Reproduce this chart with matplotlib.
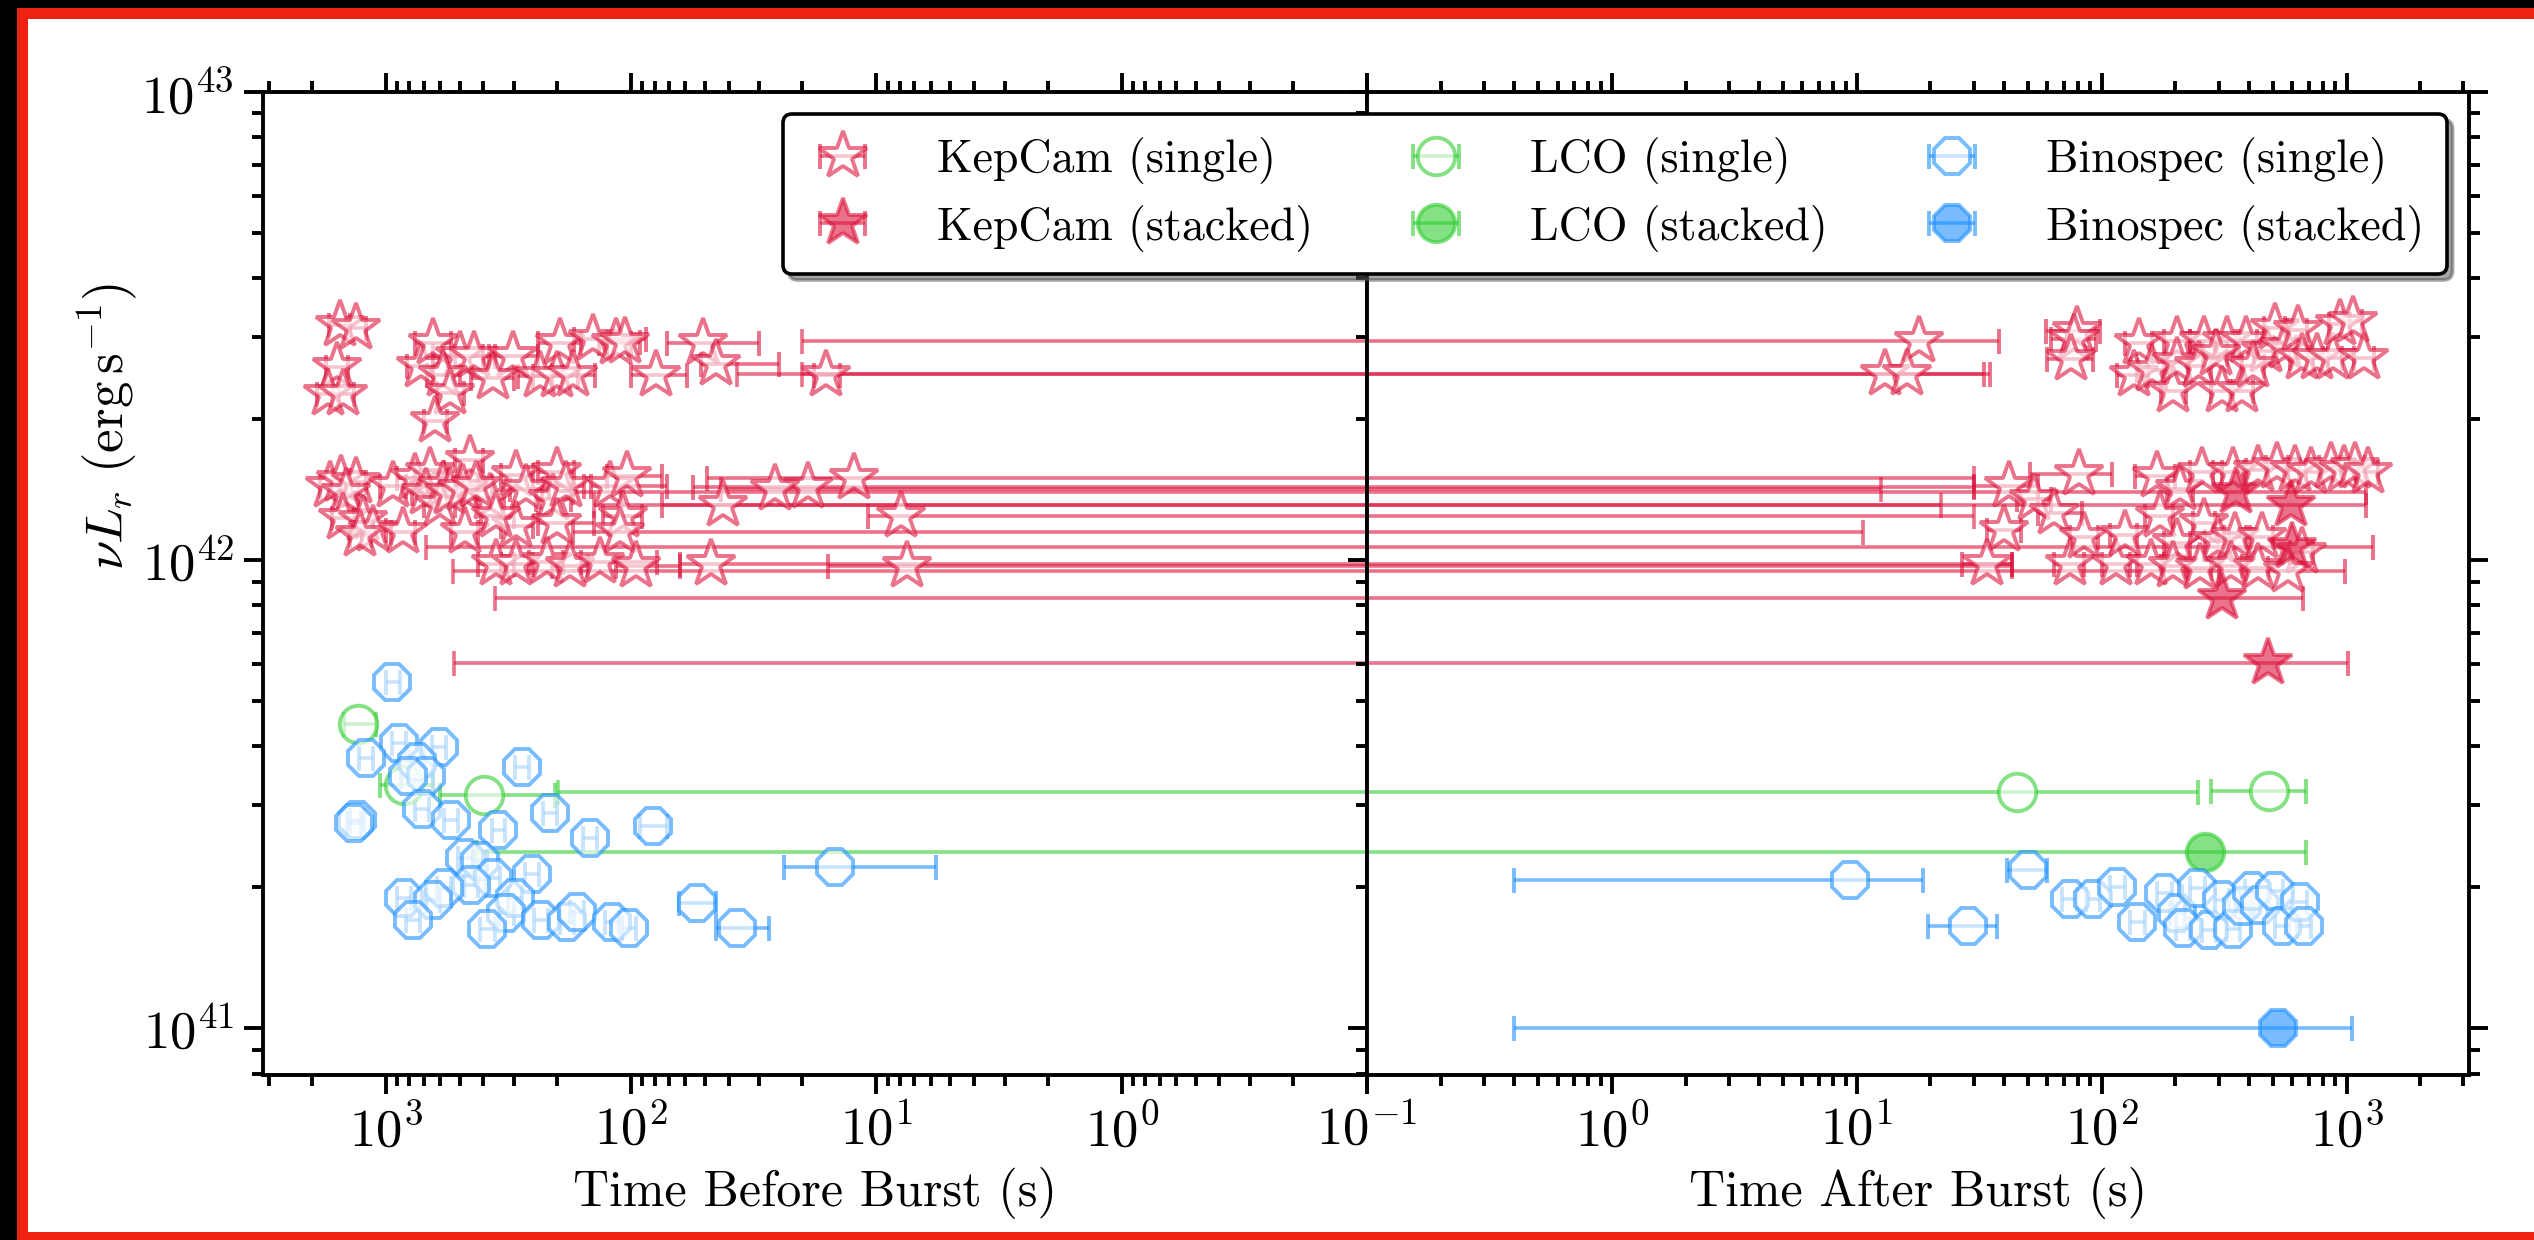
import numpy as np
import matplotlib
matplotlib.use("Agg")
import matplotlib.pyplot as plt
from matplotlib import ticker
from matplotlib.patches import Rectangle

plt.rcParams.update({
    "font.family": "serif",
    "font.serif": ["cmr10"],
    "mathtext.fontset": "cm",
    "axes.formatter.use_mathtext": True,
    "axes.unicode_minus": False,
})

# exposure windows: centre, start, end (s, negative = before the burst) and nu L_r (erg/s)
# KepCam single frames with the marker before the burst
kep_pre_t = [-1540, -1320, -1580, -1720, -1490, -720, -640, -500, -435, -303, -583, -366, -548,
             -630, -195, -236, -201, -172, -143, -115, -106, -79, -51, -45, -16,
             -1690, -1517, -1318, -1445, -1493, -1236, -1127, -1276, -933, -849, -762, -662,
             -682, -583, -603, -548, -455, -484, -377, -476, -427, -293, -267, -293, -354,
             -201, -208, -184, -201, -122, -104, -108, -111, -354, -293, -221, -178, -134, -95,
             -12.3, -19, -26, -42, -7.9, -47, -7.5]
kep_pre_start = [-1700, -1450, -1750, -1900, -1650, -820, -760, -640, -520, -380, -680, -450, -620,
                 -700, -240, -290, -250, -210, -170, -135, -125, -100, -71, -52, -18,
                 -1850, -1650, -1450, -1600, -1650, -1350, -1250, -1400, -1050, -950, -900, -760,
                 -780, -660, -700, -620, -520, -560, -430, -540, -490, -340, -310, -340, -410,
                 -240, -245, -215, -240, -145, -125, -130, -172, -420, -340, -260, -210, -160, -115,
                 -49, -56, -43, -75, -10.8, -63, -15.8]
kep_pre_end = [-1400, -1200, -1420, -1550, -1350, -640, -540, -400, -360, -240, -500, -300, -480,
               -560, -160, -190, -165, -140, -87, -100, -92, -59, -30, -25, -14,
               -1550, -1400, -1200, -1300, -1350, -1130, -1000, -1150, -830, -760, -560, -580,
               -600, -510, -520, -480, -400, -420, -330, -420, -370, -250, -230, -250, -300,
               -170, -175, -155, -141, -71, -75, -90, 10.6, -300, -250, -190, -150, -78, -63,
               30, 30, 12.5, 22, 30, 43, 43]
kep_pre_lum = [3.18e42, 3.13e42, 2.58e42, 2.26e42, 2.26e42, 2.6e42, 2.91e42, 2.73e42, 2.73e42,
               2.73e42, 2.49e42, 2.45e42, 2.28e42, 1.98e42, 2.91e42, 2.47e42, 2.47e42, 2.49e42,
               2.96e42, 2.91e42, 2.93e42, 2.49e42, 2.91e42, 2.63e42, 2.49e42,
               1.44e42, 1.48e42, 1.47e42, 1.39e42, 1.23e42, 1.22e42, 1.16e42, 1.13e42, 1.44e42,
               1.15e42, 1.50e42, 1.54e42, 1.39e42, 1.44e42, 1.31e42, 1.39e42, 1.64e42, 1.42e42,
               1.36e42, 1.15e42, 1.44e42, 1.52e42, 1.42e42, 1.18e42, 1.24e42, 1.54e42, 1.35e42,
               1.44e42, 1.20e42, 1.44e42, 1.51e42, 1.24e42, 1.15e42, 9.8e41, 9.8e41, 9.9e41,
               9.7e41, 9.9e41, 9.7e41,
               1.50e42, 1.43e42, 1.42e42, 1.31e42, 1.24e42, 9.8e41, 9.7e41]

# KepCam single frames with the marker after the burst
kep_post_t = [18, 13.1, 16, 79, 77, 75, 142, 204, 262, 326, 390, 470, 512, 560, 631, 658, 760, 879,
              938, 1062, 1178, 135, 160, 196, 204, 250, 292, 310, 374, 415,
              42, 53, 64, 40, 81, 34, 74, 85, 114, 124, 169, 209, 173, 204, 159, 196, 257, 344,
              433, 522, 617, 714, 861, 977, 1083, 1228, 262, 298, 351, 452, 658, 251, 337, 433, 579]
kep_post_start = [-20, -37, -20, 59, 62, 60, 125, 180, 230, 290, 350, 420, 460, 500, 570, 590, 690,
                  800, 850, 960, 1070, 115, 140, 175, 185, 225, 260, 280, 335, 375,
                  30, 45, 55, 34, 51, 27, 64, 74, 100, 108, 137, 185, 150, 180, 140, 175, 230, 310,
                  390, 470, 555, 640, 775, 880, 975, 1100, 235, 265, 315, 405, 590, 225, 300, 390,
                  -532]
kep_post_end = [38, 33, 35, 98, 95, 92, 160, 230, 295, 365, 430, 520, 560, 620, 690, 730, 840, 960,
                1030, 1160, 1290, 155, 180, 220, 225, 280, 325, 345, 415, 460,
                55, 62, 83, 47, 110, 43, 85, 97, 130, 140, 200, 235, 195, 230, 180, 220, 285, 380,
                480, 575, 680, 790, 950, 1080, 1190, 1350, 290, 330, 390, 500, 730, 280, 375, 480,
                990]
kep_post_lum = [2.94e42, 2.5e42, 2.5e42, 3.08e42, 2.96e42, 2.69e42, 2.91e42, 2.94e42, 2.94e42,
                2.94e42, 2.94e42, 2.80e42, 3.13e42, 2.85e42, 3.10e42, 2.70e42, 2.70e42, 2.70e42,
                3.20e42, 3.24e42, 2.70e42, 2.49e42, 2.55e42, 2.30e42, 2.65e42, 2.60e42, 2.75e42,
                2.30e42, 2.30e42, 2.60e42,
                1.44e42, 1.35e42, 1.26e42, 1.16e42, 1.53e42, 9.8e41, 9.8e41, 1.12e42, 9.8e41,
                1.13e42, 1.51e42, 1.42e42, 1.24e42, 1.09e42, 9.8e41, 9.7e41, 1.54e42, 1.54e42,
                1.56e42, 1.58e42, 1.56e42, 1.54e42, 1.58e42, 1.56e42, 1.58e42, 1.54e42, 1.20e42,
                1.10e42, 1.12e42, 1.12e42, 1.04e42, 9.6e41, 9.7e41, 9.6e41, 9.5e41]

# KepCam stacks
kep_stack_t = [352, 592, 600, 310, 480]
kep_stack_start = [-172, -141, -682, -360, -528]
kep_stack_end = [1200, 1200, 1280, 665, 1010]
kep_stack_lum = [1.40e42, 1.31e42, 1.065e42, 8.3e41, 6.04e41]

# LCO
lco_t = [-1295, -843, -397, 45, 484]
lco_start = [-1480, -1050, -603, -199, 279]
lco_end = [-1100, -643, -205, 247, 686]
lco_lum = [4.46e41, 3.3e41, 3.15e41, 3.19e41, 3.21e41]

lco_stack_t = [265]
lco_stack_start = [-423]
lco_stack_end = [686]
lco_stack_lum = [2.38e41]

# Binospec
bino_t = [-938, -881, -1205, -609, -745, -684, -809, -279, -1309, -1350, -714, -543, -347, -214,
          -147, -81, -473, -414, -253, -366, -451, -579, -843, -643, -776, -296, -322, -385, -232,
          -183, -166, -120, -102, -54, -37, -14.7,
          9.4, 28.5, 50, 74, 92, 116, 140, 180, 204, 246, 215, 274, 310, 344, 374, 412, 443, 512,
          545, 644, 671]
bino_start = [-1000, -940, -1290, -650, -795, -730, -865, -298, -1400, -1440, -762, -580, -370,
              -228, -157, -92, -505, -442, -270, -390, -481, -618, -900, -686, -828, -316, -344,
              -411, -248, -195, -177, -128, -109, -64, -45, -23.7,
              0.4, 19.6, 41, 69, 86, 108, 131, 168, 191, 230, 201, 256, 290, 322, 350, 385, 414,
              478, 509, 601, 627]
bino_end = [-878, -825, -1128, -570, -697, -640, -757, -261, -1225, -1263, -668, -508, -325, -200,
            -138, -71, -442, -388, -237, -343, -422, -542, -789, -602, -727, -277, -301, -360,
            -217, -171, -155, -112, -95, -45, -27.5, -5.7,
            18.6, 37.4, 60, 79, 98, 124, 150, 193, 218, 263, 230, 293, 331, 368, 400, 441, 474,
            548, 583, 689, 718]
bino_lum = [5.5e41, 4.07e41, 3.78e41, 3.99e41, 3.71e41, 3.46e41, 3.46e41, 3.61e41, 2.79e41,
            2.75e41, 2.94e41, 2.79e41, 2.65e41, 2.88e41, 2.55e41, 2.70e41, 2.31e41, 2.28e41,
            2.14e41, 2.09e41, 2.02e41, 1.99e41, 1.90e41, 1.88e41, 1.70e41, 1.90e41, 1.76e41,
            1.63e41, 1.70e41, 1.69e41, 1.77e41, 1.69e41, 1.64e41, 1.85e41, 1.64e41, 2.21e41,
            2.07e41, 1.65e41, 2.18e41, 1.89e41, 1.89e41, 2.0e41, 1.69e41, 1.94e41, 1.76e41,
            1.99e41, 1.64e41, 1.62e41, 1.88e41, 1.63e41, 1.82e41, 1.96e41, 1.83e41, 1.96e41,
            1.65e41, 1.86e41, 1.65e41]

bino_stack_t = [527]
bino_stack_start = [0.4]
bino_stack_end = [1052]
bino_stack_lum = [1.0e41]

EDGE = 1e-3  # stand-in for t = 0 on a log axis, well outside the plotted range


def draw(ax_pre, ax_post, t, t0, t1, lum, color, marker, ms, filled):
    t, t0, t1, lum = (np.asarray(a, dtype=float) for a in (t, t0, t1, lum))
    style = dict(color=color, ecolor=color, alpha=0.6, capsize=4.5, elinewidth=1.3,
                 capthick=1.3, ls="none", marker=marker, ms=ms, mew=1.4, mec=color,
                 mfc=color if filled else "white")
    span = dict(fmt="none", ecolor=color, alpha=0.6, capsize=4.5, elinewidth=1.3, capthick=1.3)
    handle = None

    m = t > 0
    if m.any():
        lo = np.maximum(t0[m], EDGE)
        handle = ax_post.errorbar(t[m], lum[m], xerr=[t[m] - lo, t1[m] - t[m]], **style)
    m = t < 0
    if m.any():
        near = np.maximum(-t1[m], EDGE)
        h = ax_pre.errorbar(-t[m], lum[m], xerr=[-t[m] - near, t[m] - t0[m]], **style)
        handle = handle or h

    # windows that run across the burst: draw the part on the other panel
    m = (t > 0) & (t0 < 0)
    if m.any():
        ax_pre.errorbar(-t0[m], lum[m], xerr=[-t0[m] - EDGE, np.zeros(m.sum())], **span)
    m = (t < 0) & (t1 > 0)
    if m.any():
        ax_post.errorbar(t1[m], lum[m], xerr=[t1[m] - EDGE, np.zeros(m.sum())], **span)
    return handle


W, H = 2534, 1240
fig = plt.figure(figsize=(W / 200, H / 200), dpi=200)
ax_pre = fig.add_axes([263 / W, 1 - 1075 / H, 1104 / W, 983 / H])
ax_post = fig.add_axes([1367 / W, 1 - 1075 / H, 1102 / W, 983 / H])

kepcam = "#DC143C"
lco = "#32CD32"
bino = "#1E90FF"

handles = [
    draw(ax_pre, ax_post, kep_pre_t + kep_post_t, kep_pre_start + kep_post_start,
         kep_pre_end + kep_post_end, kep_pre_lum + kep_post_lum, kepcam, "*", 18, False),
    draw(ax_pre, ax_post, kep_stack_t, kep_stack_start, kep_stack_end, kep_stack_lum,
         kepcam, "*", 18, True),
    draw(ax_pre, ax_post, lco_t, lco_start, lco_end, lco_lum, lco, "o", 13.5, False),
    draw(ax_pre, ax_post, lco_stack_t, lco_stack_start, lco_stack_end, lco_stack_lum,
         lco, "o", 13.5, True),
    draw(ax_pre, ax_post, bino_t, bino_start, bino_end, bino_lum, bino, "8", 14, False),
    draw(ax_pre, ax_post, bino_stack_t, bino_stack_start, bino_stack_end, bino_stack_lum,
         bino, "8", 14, True),
]
labels = ["KepCam (single)", "KepCam (stacked)", "LCO (single)", "LCO (stacked)",
          "Binospec (single)", "Binospec (stacked)"]

decade = ticker.FuncFormatter(lambda v, p: r"$10^{%d}$" % round(np.log10(v)))
decade_no_first = ticker.FuncFormatter(
    lambda v, p: "" if v < 0.5 else r"$10^{%d}$" % round(np.log10(v)))

for ax in (ax_pre, ax_post):
    ax.set_xscale("log")
    ax.set_yscale("log")
    ax.set_ylim(10 ** 40.9, 1e43)
    for axis in (ax.xaxis, ax.yaxis):
        axis.set_major_locator(ticker.LogLocator(base=10, numticks=12))
        axis.set_minor_locator(ticker.LogLocator(base=10, subs=np.arange(2, 10), numticks=30))
        axis.set_minor_formatter(ticker.NullFormatter())
    ax.yaxis.set_major_formatter(decade)
    ax.tick_params(which="both", direction="out", top=True, width=1.4, labelsize=19)
    ax.tick_params(which="major", length=7)
    ax.tick_params(which="minor", length=4)
    for s in ax.spines.values():
        s.set_linewidth(1.4)

ax_pre.set_xlim(10 ** 3.5, 0.1)
ax_post.set_xlim(0.1, 10 ** 3.5)
ax_pre.xaxis.set_major_formatter(decade)
ax_post.xaxis.set_major_formatter(decade_no_first)
ax_pre.tick_params(axis="y", which="both", left=True, right=False)
ax_post.tick_params(axis="y", which="both", left=True, right=True, labelleft=False)

ax_pre.set_xlabel("Time Before Burst (s)", fontsize=18)
ax_post.set_xlabel("Time After Burst (s)", fontsize=18)
ax_pre.set_ylabel(r"$\nu L_r\ (\mathrm{erg\,s^{-1}})$", fontsize=19)
ax_pre.yaxis.set_label_coords(-0.112, 0.66)

leg = fig.legend(handles, labels, loc="upper right", bbox_to_anchor=(2447 / W, 1 - 114 / H),
                 bbox_transform=fig.transFigure, borderaxespad=0, ncol=3, fontsize=16.5,
                 fancybox=True, shadow=True, framealpha=1, edgecolor="black",
                 handlelength=1.6, handletextpad=1.25, columnspacing=1.9, labelspacing=0.45,
                 borderpad=0.5)
leg.get_frame().set_linewidth(1.3)

# screen frame around the figure
for x, y, w, h, c in [(0, 0, 17, H, "black"), (0, H - 8, W, 8, "black"),
                      (17, 0, 11, H - 8, "#EE2211"), (17, H - 19, W, 11, "#EE2211"),
                      (17, 0, W, 8, "#EE2211")]:
    fig.add_artist(Rectangle((x / W, y / H), w / W, h / H, transform=fig.transFigure,
                             color=c, lw=0, zorder=10))

fig.savefig("out.png", dpi=200)
